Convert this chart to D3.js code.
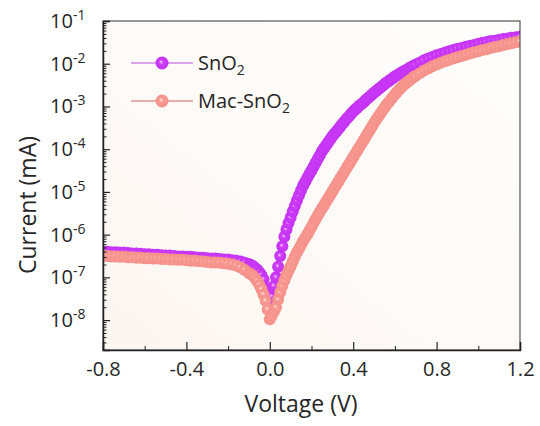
<!DOCTYPE html>
<html>
<head>
<meta charset="utf-8">
<script src="https://cdn.jsdelivr.net/npm/d3@7"></script>
<style>
  html, body { margin: 0; padding: 0; background: #fff; }
  svg { display: block; font-family: "Open Sans", sans-serif; }
</style>
</head>
<body>
<svg id="chart" width="540" height="426"></svg>
<script>
// voltage sweep (V)
const volts = [
  -0.8, -0.78, -0.76, -0.74, -0.72, -0.7, -0.68, -0.66, -0.64, -0.62, -0.6, -0.58, -0.56, -0.54, -0.52, -0.5, -0.48, -0.46,
  -0.44, -0.42, -0.4, -0.38, -0.36, -0.34, -0.32, -0.3, -0.28, -0.26, -0.24, -0.22, -0.2, -0.18, -0.16, -0.14, -0.12,
  -0.1, -0.09, -0.08, -0.07, -0.06, -0.05, -0.04, -0.03, -0.02, -0.01, 0.0, 0.01, 0.02, 0.03, 0.04, 0.05, 0.06, 0.07, 0.08, 0.09,
  0.1, 0.11, 0.12, 0.13, 0.14, 0.15, 0.16, 0.17, 0.18, 0.19, 0.2, 0.21, 0.22, 0.23, 0.24, 0.25, 0.26, 0.27, 0.28, 0.29,
  0.3, 0.31, 0.32, 0.33, 0.34, 0.35, 0.36, 0.37, 0.38, 0.39, 0.4, 0.41, 0.42, 0.43, 0.44, 0.45, 0.46, 0.47, 0.48, 0.49,
  0.5, 0.51, 0.52, 0.53, 0.54, 0.55, 0.56, 0.57, 0.58, 0.59, 0.6, 0.61, 0.62, 0.63, 0.64, 0.65, 0.66, 0.67, 0.68, 0.69, 0.7,
  0.72, 0.74, 0.76, 0.78, 0.8, 0.82, 0.84, 0.86, 0.88, 0.9, 0.92, 0.94, 0.96, 0.98, 1.0, 1.02, 1.04, 1.06, 1.08, 1.1,
  1.12, 1.14, 1.16, 1.18, 1.2
];

// log10 of current (mA)
const snO2Log = [
  -6.40, -6.40, -6.41, -6.41, -6.42, -6.42, -6.43, -6.44, -6.44, -6.45, -6.46, -6.46, -6.47, -6.47, -6.48, -6.49, -6.49, -6.50,
  -6.51, -6.51, -6.52, -6.52, -6.53, -6.54, -6.54, -6.55, -6.56, -6.56, -6.57, -6.58, -6.58, -6.60, -6.61, -6.63, -6.66,
  -6.69, -6.71, -6.74, -6.78, -6.82, -6.88, -6.95, -7.05, -7.25, -7.50, -7.72, -7.45, -7.20, -7.00, -6.75, -6.50, -6.27, -6.05, -5.88, -5.73,
  -5.60, -5.46, -5.33, -5.20, -5.08, -4.96, -4.85, -4.76, -4.67, -4.58, -4.50, -4.41, -4.32, -4.23, -4.14, -4.05, -3.98, -3.91, -3.84, -3.77,
  -3.70, -3.64, -3.58, -3.52, -3.46, -3.40, -3.34, -3.28, -3.23, -3.17, -3.12, -3.07, -3.03, -2.98, -2.94, -2.90, -2.85, -2.81, -2.77, -2.72,
  -2.68, -2.64, -2.60, -2.56, -2.52, -2.48, -2.44, -2.41, -2.37, -2.34, -2.30, -2.27, -2.24, -2.21, -2.18, -2.16, -2.13, -2.10, -2.07, -2.05, -2.02,
  -1.97, -1.92, -1.88, -1.84, -1.80, -1.77, -1.74, -1.71, -1.68, -1.65, -1.63, -1.60, -1.58, -1.56, -1.53, -1.51, -1.49, -1.47, -1.46, -1.44,
  -1.42, -1.41, -1.39, -1.38, -1.37
];

const macSnO2Log = [
  -6.50, -6.50, -6.51, -6.51, -6.52, -6.52, -6.53, -6.53, -6.54, -6.54, -6.55, -6.55, -6.56, -6.56, -6.57, -6.57, -6.58, -6.58,
  -6.59, -6.59, -6.60, -6.61, -6.61, -6.62, -6.63, -6.64, -6.65, -6.65, -6.66, -6.67, -6.68, -6.70, -6.73, -6.77, -6.83,
  -6.90, -6.93, -6.96, -7.02, -7.09, -7.18, -7.28, -7.40, -7.55, -7.75, -7.98, -7.90, -7.80, -7.70, -7.52, -7.35, -7.20, -7.07, -6.95, -6.84,
  -6.74, -6.63, -6.52, -6.42, -6.33, -6.24, -6.15, -6.07, -5.99, -5.91, -5.82, -5.73, -5.64, -5.55, -5.47, -5.39, -5.31, -5.23, -5.15, -5.07,
  -4.99, -4.91, -4.83, -4.75, -4.67, -4.59, -4.51, -4.43, -4.35, -4.27, -4.19, -4.11, -4.03, -3.95, -3.87, -3.79, -3.71, -3.63, -3.55, -3.47,
  -3.39, -3.31, -3.24, -3.17, -3.10, -3.03, -2.96, -2.90, -2.84, -2.78, -2.72, -2.66, -2.61, -2.56, -2.51, -2.47, -2.43, -2.39, -2.35, -2.31, -2.28,
  -2.22, -2.16, -2.11, -2.06, -2.02, -1.98, -1.94, -1.91, -1.88, -1.85, -1.82, -1.79, -1.76, -1.73, -1.71, -1.68, -1.66, -1.63, -1.61, -1.59,
  -1.56, -1.54, -1.52, -1.50, -1.48
];

const xTicks = [-0.8, -0.4, 0.0, 0.4, 0.8, 1.2];
const xTickLabels = ["-0.8", "-0.4", "0.0", "0.4", "0.8", "1.2"];
const xMinorTicks = [-0.6, -0.2, 0.2, 0.6, 1.0];
const yExponents = [-1, -2, -3, -4, -5, -6, -7, -8];

const svg = d3.select("#chart");
const margin = { top: 21, right: 20, bottom: 76, left: 103 };
const width = 540 - margin.left - margin.right;
const height = 426 - margin.top - margin.bottom;

const x = d3.scaleLinear().domain([-0.8, 1.2]).range([0, width]);
const y = d3.scaleLog().domain([Math.pow(10, -8.7), 0.1]).range([height, 0]);

const defs = svg.append("defs");
defs.append("clipPath").attr("id", "plot-clip")
  .append("rect").attr("width", width).attr("height", height);

const bg = defs.append("linearGradient").attr("id", "bg")
    .attr("x1", "100%").attr("y1", "0%").attr("x2", "0%").attr("y2", "100%");
bg.append("stop").attr("offset", "0%").attr("stop-color", "#fffefd");
bg.append("stop").attr("offset", "100%").attr("stop-color", "#fcf6f1");

const grad = (id, hi, base, edge) => {
  const gr = defs.append("radialGradient").attr("id", id)
      .attr("cx", "50%").attr("cy", "50%").attr("r", "50%")
      .attr("fx", "42%").attr("fy", "40%");
  gr.append("stop").attr("offset", "0%").attr("stop-color", hi);
  gr.append("stop").attr("offset", "35%").attr("stop-color", base);
  gr.append("stop").attr("offset", "100%").attr("stop-color", edge);
};
grad("ball-purple", "#f3d2ff", "#cf3cfa", "#c331f2");
grad("ball-pink", "#fde6e2", "#f89a91", "#f5918a");

const g = svg.append("g").attr("transform", "translate(" + margin.left + "," + margin.top + ")");

g.append("rect")
    .attr("width", width).attr("height", height)
    .attr("fill", "url(#bg)");

const plot = g.append("g").attr("clip-path", "url(#plot-clip)");

const series = [
  { name: "SnO2", values: snO2Log, fill: "url(#ball-purple)", line: "#b84ee0" },
  { name: "Mac-SnO2", values: macSnO2Log, fill: "url(#ball-pink)", line: "#d0605a" }
];

series.forEach(s => {
  plot.append("g")
    .selectAll("circle")
    .data(volts.map((v, i) => ({ v: v, i: Math.pow(10, s.values[i]) })))
    .join("circle")
      .attr("cx", d => x(d.v))
      .attr("cy", d => y(d.i))
      .attr("r", 6)
      .attr("fill", s.fill);
});

// frame
g.append("rect")
    .attr("width", width).attr("height", height)
    .attr("fill", "none").attr("stroke", "#333").attr("stroke-width", 1);

// y axis ticks (inward)
const yMinor = [];
for (let e = -9; e < -1; e++) {
  for (let k = 2; k <= 9; k++) {
    const v = k * Math.pow(10, e);
    if (v >= y.domain()[0] && v <= 0.1) yMinor.push(v);
  }
}
g.append("g")
    .call(d3.axisLeft(y).tickValues(yMinor).tickSize(-3.5).tickFormat(""))
    .call(a => a.select(".domain").remove())
    .selectAll("line").attr("stroke", "#222");
g.append("g")
    .call(d3.axisLeft(y).tickValues(yExponents.map(e => Math.pow(10, e))).tickSize(-7).tickFormat(""))
    .call(a => a.select(".domain").attr("stroke", "#222").attr("stroke-width", 1.5))
    .selectAll("line").attr("stroke", "#222").attr("stroke-width", 1.2);

// y tick labels with superscript exponents
const yl = g.append("g").attr("font-size", 20).attr("fill", "#262626");
yExponents.forEach(e => {
  const t = yl.append("text")
      .attr("x", -53)
      .attr("y", y(Math.pow(10, e)) + 7);
  t.append("tspan").text("10");
  t.append("tspan").attr("font-size", 14).attr("dy", -8).text(String(e));
});

// x axis
g.append("g")
    .attr("transform", "translate(0," + height + ")")
    .call(d3.axisBottom(x).tickValues(xMinorTicks).tickSize(-4).tickFormat(""))
    .call(a => a.select(".domain").remove())
    .selectAll("line").attr("stroke", "#222");
const xAxis = g.append("g")
    .attr("transform", "translate(0," + height + ")")
    .call(d3.axisBottom(x).tickValues(xTicks).tickSize(-8).tickPadding(12)
      .tickFormat((d, i) => xTickLabels[i]));
xAxis.select(".domain").attr("stroke", "#222").attr("stroke-width", 1.5);
xAxis.selectAll("line").attr("stroke", "#222").attr("stroke-width", 1.2);
xAxis.selectAll("text")
    .attr("font-family", "Open Sans, sans-serif")
    .attr("font-size", 20)
    .attr("fill", "#262626");

// axis titles
svg.append("text")
    .attr("x", 301)
    .attr("y", 412)
    .attr("text-anchor", "middle")
    .attr("font-size", 23)
    .attr("fill", "#262626")
    .text("Voltage (V)");

svg.append("text")
    .attr("transform", "translate(36,205) rotate(-90)")
    .attr("text-anchor", "middle")
    .attr("font-size", 23)
    .attr("fill", "#262626")
    .text("Current (mA)");

// legend
const legend = g.append("g").attr("transform", "translate(28,42)");
series.forEach((s, i) => {
  const row = legend.append("g").attr("transform", "translate(0," + i * 38 + ")");
  row.append("line")
      .attr("x1", 0).attr("x2", 62)
      .attr("stroke", s.line).attr("stroke-width", 1.2);
  row.append("circle")
      .attr("cx", 31).attr("r", 6.5)
      .attr("fill", s.fill);
  const t = row.append("text")
      .attr("x", 67).attr("y", 7)
      .attr("font-size", 20)
      .attr("fill", "#262626");
  t.append("tspan").text(s.name.slice(0, -1));
  t.append("tspan").attr("font-size", 14).attr("dy", 5).text("2");
});
</script>
</body>
</html>
